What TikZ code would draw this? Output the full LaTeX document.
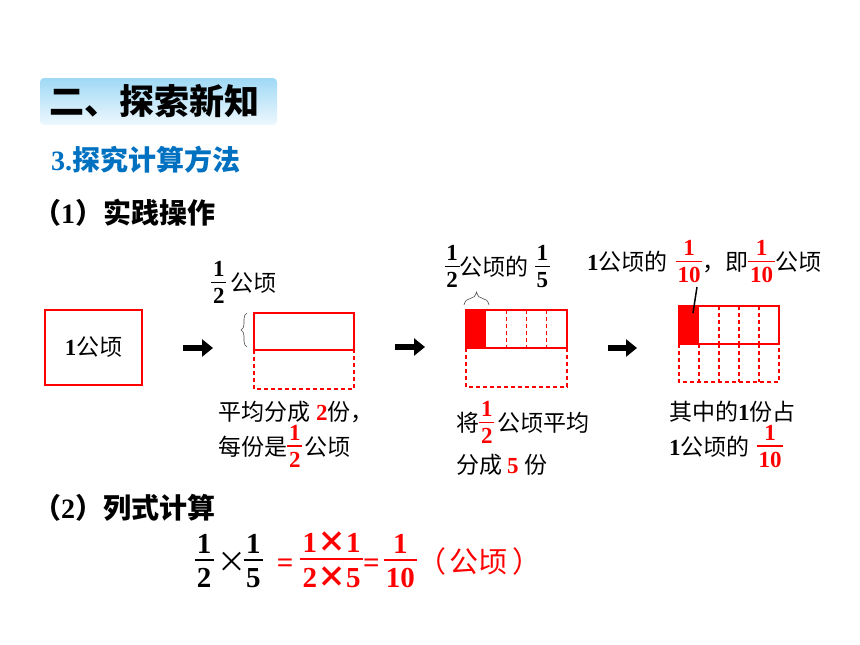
\documentclass[tikz,border=0pt]{standalone}
\usepackage{fontspec}
\usepackage{xcolor}
\usetikzlibrary{arrows.meta,decorations.pathreplacing}
\setmainfont{Noto Sans CJK SC}
\newfontfamily\tnr{Liberation Serif}
\definecolor{hdtop}{HTML}{9FD9F5}
\definecolor{hdbot}{HTML}{EEF8FE}
\definecolor{stepblue}{HTML}{0070C0}
\newcommand{\nb}[1]{{\tnr\bfseries #1}}
\newsavebox\fracbox
\newcommand{\frc}[2]{{\tnr\bfseries\sbox\fracbox{\vbox{\offinterlineskip\halign{\hfil\kern.08em##\kern.08em\hfil\cr\rule{0pt}{.68em}#1\cr\noalign{\kern.21em\hrule height .07em\kern.21em}\rule{0pt}{.68em}#2\cr}}}\raisebox{-.525em}{\usebox\fracbox}}}

\begin{document}
\begin{tikzpicture}[x=1pt,y=-1pt,
    body/.style={inner sep=0pt, anchor=base west, font=\fontsize{23}{28}\selectfont},
    part/.style={red, line width=1.3pt},
    cut/.style={red, line width=1.1pt, dash pattern=on 4pt off 3pt},
    go/.style={line width=6pt, -{Triangle[length=11pt,width=17pt]}}]
  \useasboundingbox (0,0) rectangle (860,645);
  % heading bar
  \shade[top color=hdtop, bottom color=hdbot, rounded corners=4pt] (40,78) rectangle (277,125);
  \node[inner sep=0pt, anchor=base west, font=\fontsize{35}{38}\selectfont\bfseries] (title) at (49,114.8) {二、探索新知};
  \node[inner sep=0pt, anchor=base west, font=\fontsize{28}{32}\selectfont\bfseries, text=stepblue] (step) at (51,170.6) {\nb{3.}探究计算方法};
  \node[inner sep=0pt, anchor=base west, font=\fontsize{28}{32}\selectfont\bfseries] (partA) at (33,223.6) {（\nb{1}）实践操作};
  \node[inner sep=0pt, anchor=base west, font=\fontsize{28}{32}\selectfont\bfseries] (partB) at (33,518.6) {（\nb{2}）列式计算};

  % 1 hectare
  \node[draw=red, line width=2pt, minimum width=97pt, minimum height=75pt, inner sep=0pt, font=\fontsize{23}{28}\selectfont] (ha) at (93.5,347.5) {\nb{1}公顷};

  % arrows
  \coordinate (a1s) at (183,348); \coordinate (a1e) at (213,348);
  \coordinate (a2s) at (395,347); \coordinate (a2e) at (425,347);
  \coordinate (a3s) at (608,348); \coordinate (a3e) at (637,348);
  \draw[go] (a1s) -- (a1e);
  \draw[go] (a2s) -- (a2e);
  \draw[go] (a3s) -- (a3e);

  % halves
  \draw[part] (254,313) rectangle (354,350);
  \draw[cut] (254,350) -- (254,389) -- (354,389) -- (354,350);
  \draw[black!70, line width=0.6pt, decorate, decoration={brace, amplitude=6pt}] (247,347) -- (247,313);
  \node[body] (half) at (211,291.7) {\frc{1}{2}\hspace{4pt}公顷};
  \node[body] (splitA) at (218,420.7) {平均分成\hspace{6pt}\textcolor{red}{\nb{2}}份，};
  \node[body] (splitB) at (218,455) {每份是\textcolor{red}{\frc{1}{2}}\hspace{2pt}公顷};

  % fifths of a half
  \fill[red] (466,310) rectangle (486.2,348);
  \foreach \i in {2,3,4} \draw[cut] ({466+\i*20.2},310) -- ({466+\i*20.2},348);
  \draw[part] (466,310) rectangle (567,348);
  \draw[cut] (466,348) -- (466,387) -- (567,387) -- (567,348);
  \draw[black!70, line width=0.6pt, decorate, decoration={brace, amplitude=13pt}] (464,305) -- (489,305);
  \node[body] (fifth) at (444.4,275.7) {\frc{1}{2}公顷的\hspace{6pt}\frc{1}{5}};
  \node[body] (splitC) at (456,431.7) {将\textcolor{red}{\frc{1}{2}}\hspace{3pt}公顷平均};
  \node[body] (splitD) at (456,473.7) {分成\hspace{5pt}\textcolor{red}{\nb{5}}\hspace{6pt}份};

  % tenths
  \fill[red] (679,306) rectangle (699,344);
  \foreach \i in {2,3,4} \draw[cut] ({679+\i*20},306) -- ({679+\i*20},344);
  \foreach \i in {1,...,4} \draw[cut] ({679+\i*20},344) -- ({679+\i*20},382);
  \draw[part] (679,306) rectangle (779,344);
  \draw[cut] (679,344) -- (679,382) -- (779,382) -- (779,344);
  \node[body] (tenth) at (587,270.7) {\nb{1}公顷的\hspace{8pt}\textcolor{red}{\frc{1}{10}}，即\textcolor{red}{\frc{1}{10}}公顷};
  \coordinate (ptr) at (697,287); \coordinate (ptrend) at (693,313);
  \draw[line width=1.5pt] (ptr) -- (ptrend);
  \node[body] (splitE) at (669,420.7) {其中的\nb{1}份占};
  \node[body] (splitF) at (669,455) {\nb{1}公顷的\hspace{7pt}\textcolor{red}{\frc{1}{10}}};

  % formula
  \node[inner sep=0pt, anchor=base west, font=\fontsize{29}{34}\selectfont] (calc) at (194.4,572) {\frc{1}{2}\hspace{4pt}×\hspace{-3pt}\frc{1}{5}\hspace{14pt}\textcolor{red}{\nb{=}\hspace{7pt}\frc{1{\rmfamily ×}1}{2{\rmfamily ×}5}\nb{=}\hspace{4pt}\frc{1}{10}（\hspace{3pt}公顷\hspace{5pt}）}};
\end{tikzpicture}
\end{document}
